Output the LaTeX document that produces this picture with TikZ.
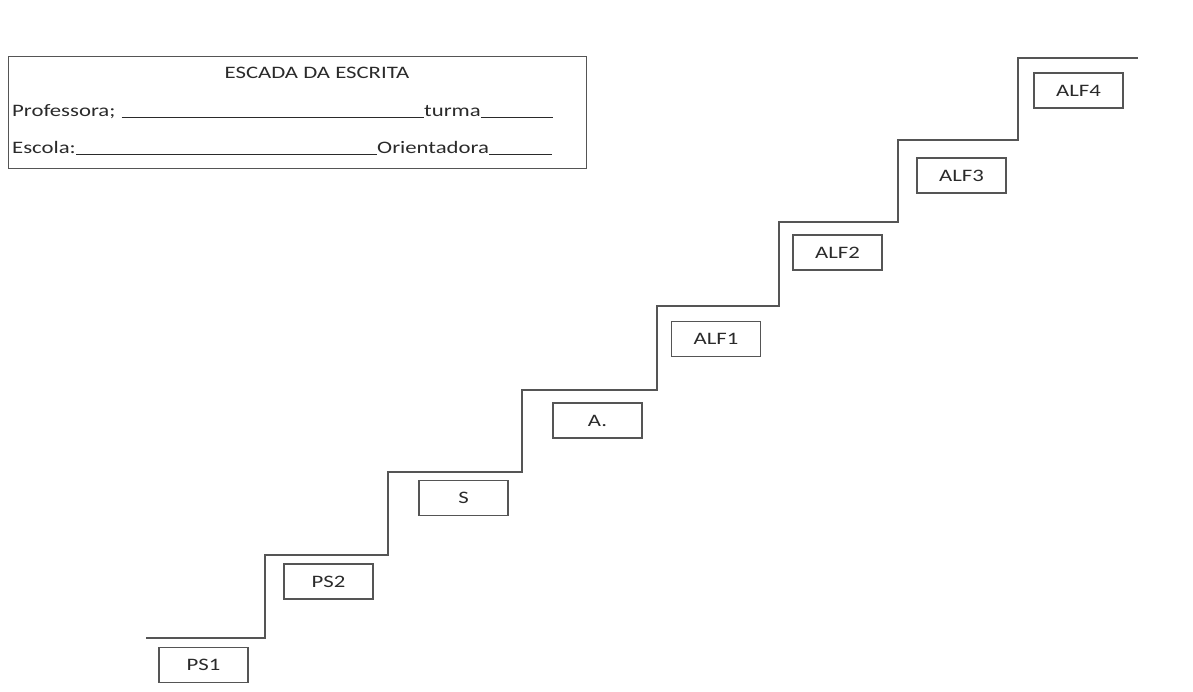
\documentclass[tikz,border=0pt]{standalone}
\usepackage{fontspec}
\setmainfont{Carlito}[FakeStretch=1.3]
\definecolor{linegray}{HTML}{555555}
\definecolor{textgray}{HTML}{2A2A2A}
\begin{document}
\begin{tikzpicture}[x=1pt,y=-1pt,
  lvl/.style={draw=linegray, line width=1.3pt, minimum width=89pt, minimum height=35pt, inner sep=0pt,
    font=\fontsize{17.5}{20}\selectfont, text=textgray},
  htxt/.style={inner sep=0pt, font=\fontsize{17.5}{20}\selectfont, text=textgray},
  uline/.style={draw=textgray, line width=1pt},
  stair/.style={draw=linegray, line width=1.8pt}]
\useasboundingbox (0,0) rectangle (1193,691);
% header box
\node[draw=linegray, line width=1.2pt, minimum width=578pt, minimum height=112pt, inner sep=0pt, anchor=north west] (hdr) at (8,56) {};
\node[htxt, anchor=base] (title) at (317,78) {ESCADA DA ESCRITA};
\node[htxt, anchor=base west] (prof) at (12,116) {Professora;};
\node[htxt, anchor=base west] (turma) at (424,116) {turma};
\node[htxt, anchor=base west] (escola) at (12,153) {Escola:};
\node[htxt, anchor=base west] (orient) at (377,153) {Orientadora};
\coordinate (tend) at (553,117.5);
\coordinate (oend) at (552,154.5);
\draw[uline] ([xshift=6pt,yshift=-1.5pt]prof.base east) -- ([yshift=-1.5pt]turma.base west);
\draw[uline] ([yshift=-1.5pt]turma.base east) -- (tend);
\draw[uline] ([yshift=-1.5pt]escola.base east) -- ([yshift=-1.5pt]orient.base west);
\draw[uline] ([yshift=-1.5pt]orient.base east) -- (oend);
% staircase
\draw[stair] (146,638) -| (265,555) -| (388,472) -| (522,390) -| (657,306) -| (779,222) -| (898,140) -| (1018,58) -- (1138,58);
% level boxes
\node[lvl] (ps1) at (203.5,665) {PS1};
\node[lvl] (ps2) at (328.5,581.5) {PS2};
\node[lvl] (s) at (463.5,498) {S};
\node[lvl] (a) at (597.5,420.5) {A.};
\node[lvl] (alf1) at (716,339) {ALF1};
\node[lvl] (alf2) at (837.5,252.5) {ALF2};
\node[lvl] (alf3) at (961.5,175.5) {ALF3};
\node[lvl] (alf4) at (1078.5,90.5) {ALF4};
\end{tikzpicture}
\end{document}
